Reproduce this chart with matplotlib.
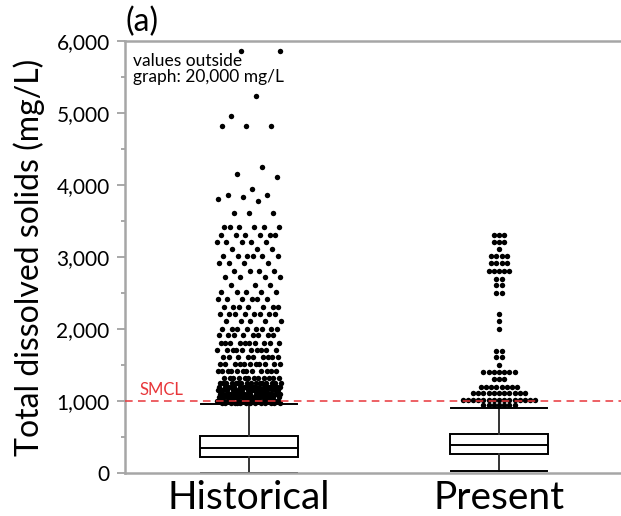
import numpy as np
import matplotlib
matplotlib.use("Agg")
import matplotlib.pyplot as plt

plt.rcParams['font.family'] = ['Lato', 'DejaVu Sans']

# categories and box statistics (mg/L)
groups = ["Historical", "Present"]
q1 = [222, 264]
med = [347, 389]
q3 = [514, 542]
whis_lo = [0, 28]
whis_hi = [958, 903]

# historical outliers: single values and rows (level, count)
hist_single = [5860, 5860, 5230, 4960, 4820, 4820, 4820, 4250, 4150, 4110,
               3940, 3860, 3860, 3830, 3810, 3780, 3610, 3610, 3610]
hist_levels = [3410, 3310, 3210, 3110, 3010, 2910, 2810, 2720, 2610, 2510,
               2410, 2310, 2210, 2110, 2000, 1910, 1810, 1710, 1610, 1520,
               1420, 1320, 1250, 1200, 1150, 1100, 1050, 1000, 975]
hist_counts = [6, 6, 5, 3, 6, 4, 4, 4, 3, 5,
               6, 7, 8, 5, 8, 8, 10, 10, 9, 11,
               12, 12, 16, 18, 18, 20, 20, 20, 14]

# present outliers: binned rows (level, count)
pres_levels = [3310, 3210, 3110, 3010, 2910, 2810, 2700, 2610, 2500, 2210,
               2110, 2000, 1700, 1610, 1500, 1400, 1300, 1200, 1110, 1020, 940]
pres_counts = [3, 3, 1, 4, 4, 5, 2, 2, 2, 1,
               1, 1, 2, 2, 1, 7, 3, 8, 11, 15, 7]

smcl = 1000

fig = plt.figure(figsize=(6.21, 5.16), dpi=100)
ax = fig.add_axes([0.2013, 0.0833, 0.7987, 0.8372])

stats = []
for i in range(2):
    stats.append(dict(med=med[i], q1=q1[i], q3=q3[i],
                      whislo=whis_lo[i], whishi=whis_hi[i], fliers=[]))
ax.bxp(stats, positions=[1, 2], widths=0.39, capwidths=0.385,
       patch_artist=True, showfliers=False,
       boxprops=dict(facecolor="white", edgecolor="black", linewidth=1.4),
       medianprops=dict(color="black", linewidth=1.4),
       whiskerprops=dict(color="#333333", linewidth=1.4),
       capprops=dict(color="black", linewidth=1.4))

# historical: jittered points
hist_vals = np.concatenate([hist_single, np.repeat(hist_levels, hist_counts)])
n = len(hist_vals)
jit = ((np.arange(n) * 0.6180339887 + 0.37) % 1.0 - 0.5) * 2 * 0.128
ax.plot(1 + jit, hist_vals, 'o', color="black", ms=3.9, mew=0, zorder=3)

# present: centred rows of dots
step = 0.0208
px, py = [], []
for lev, c in zip(pres_levels, pres_counts):
    off = (np.arange(c) - (c - 1) / 2) * step
    px.extend(2 + off)
    py.extend([lev] * c)
ax.plot(px, py, 'o', color="black", ms=3.9, mew=0, zorder=3)

ax.axhline(smcl, color="#e8363a", linestyle=(0, (5, 3.5)), linewidth=1.1, zorder=4)
ax.text(0.56, smcl + 85, "SMCL", color="#e8363a", fontsize=12)

ax.text(0.535, 5830, "values outside\ngraph: 20,000 mg/L", fontsize=12.5,
        va="top", linespacing=1.0)
ax.text(0.0, 1.01, "(a)", transform=ax.transAxes, fontsize=23, va="bottom")

ax.set_xlim(0.504, 2.488)
ax.set_ylim(0, 6000)
ax.set_xticks([1, 2])
ax.set_xticklabels(groups, fontsize=28)
ax.tick_params(axis="x", length=0, pad=5)
ax.set_yticks(np.arange(0, 6001, 1000))
ax.set_yticklabels(["{:,}".format(v) for v in range(0, 6001, 1000)], fontsize=15)
ax.set_yticks(np.arange(500, 6000, 1000), minor=True)
ax.tick_params(axis="y", which="major", length=6, width=1.2, color="#999999", pad=5)
ax.tick_params(axis="y", which="minor", length=3, width=1.2, color="#999999")
ax.set_ylabel("Total dissolved solids (mg/L)", fontsize=23, labelpad=8)

for s in ["left", "top", "bottom"]:
    ax.spines[s].set_color("#a6a6a6")
    ax.spines[s].set_linewidth(1.8)
ax.spines["right"].set_visible(False)

fig.savefig("out.png", dpi=100)
